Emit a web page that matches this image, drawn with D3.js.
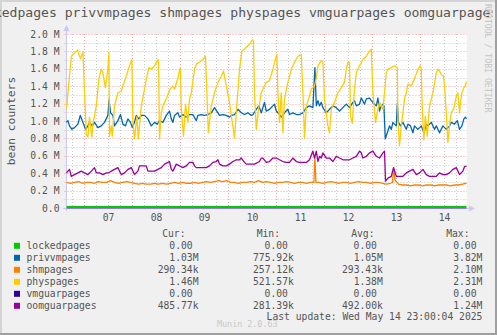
<!DOCTYPE html>
<html>
<head>
<meta charset="utf-8">
<script src="https://cdn.jsdelivr.net/npm/d3@7"></script>
<style>
  html, body { margin: 0; padding: 0; background: #F0F0F0; }
  svg { display: block; }
  text { font-family: "DejaVu Sans Mono", monospace; fill: #555; }
</style>
</head>
<body>
<svg id="chart" width="497" height="335"></svg>
<script>
// ---- data -----------------------------------------------------------------
// Samples are [hours since 2025-05-06 15:00 UTC, value in millions of pages].
const seriesNames = ["lockedpages", "privvmpages", "shmpages", "physpages", "vmguarpages", "oomguarpages"];

const lockedpages = [[0, 0], [200, 0]];

const privvmpages = [
  [0,0.99],[0.7,1.01],[1.5,0.95],[2.7,0.91],[4,0.93],[5.7,0.97],[6.9,1.07],[8.2,0.99],[9.5,0.91],[10.7,0.95],
  [11.5,0.99],[12.9,0.95],[14,0.99],[15.7,0.93],[17.4,0.95],[19,0.99],[20.7,1.07],[21.3,1.25],[22,1.10],[23.2,1.07],
  [24,0.95],[25.7,1.01],[27,1.08],[28.2,0.97],[29.5,0.95],[30.7,1.03],[32,0.99],[32.9,0.93],[34,0.99],[34.9,1.07],
  [36.2,1.03],[37.4,1.07],[39,1.07],[40.7,1.03],[42.4,0.95],[44,0.99],[45.4,0.97],[46.5,1.01],[48.2,0.99],[49.9,1.07],
  [51.5,1.12],[52.4,1.03],[53.2,0.99],[54,1.07],[55.7,1.10],[56.5,1.05],[58.2,1.08],[59.9,1.05],[61.5,1.08],[63.2,1.08],
  [64.9,1.01],[65.7,1.07],[67.4,1.08],[69,1.07],[70.7,1.08],[72.4,1.10],[74,1.16],[75.7,1.10],[76.5,1.07],[78.2,1.08],
  [79.9,1.07],[81.5,1.05],[82.4,1.07],[84,1.08],[85.7,1.14],[87.4,1.10],[89,1.08],[90.7,1.10],[92.4,1.07],[93.2,1.08],
  [94.9,1.14],[96.2,1.18],[97.4,1.10],[99,1.22],[99.9,1.12],[101.5,1.14],[103.2,1.18],[104,1.20],[104.9,1.12],[106.5,1.08],
  [107.4,1.05],[109,1.10],[110.7,1.14],[111.5,1.08],[113.2,1.10],[114.9,1.08],[116.5,1.08],[118.2,1.10],[119.9,1.16],[121.5,1.18],
  [123.2,1.16],[124.2,1.62],[124.9,1.18],[125.7,1.24],[126.5,1.18],[127.4,1.22],[128.2,1.16],[129.9,1.10],[131.5,1.14],[133.2,1.18],
  [134.9,1.16],[136.5,1.12],[138.2,1.16],[139.9,1.20],[141.5,1.16],[143.2,1.22],[144,1.24],[144.9,1.18],[146.5,1.20],[147.4,1.27],
  [149,1.20],[149.9,1.26],[151.5,1.27],[152.4,1.24],[153.2,1.22],[154.9,1.18],[155.7,1.27],[156.5,1.12],[157.4,1.18],[158.2,1.20],
  [158.7,1.18],[159.4,0.80],[160.4,0.87],[161.5,0.95],[162.4,0.91],[163.2,0.99],[164,0.97],[164.9,0.95],[165.4,1.20],[166,0.99],
  [167,0.95],[168.2,0.99],[169.9,0.91],[170.7,0.97],[172,0.95],[173.2,0.87],[174,0.95],[175.7,0.91],[177.4,0.95],[178.7,0.87],
  [179.9,0.97],[180.7,0.95],[182.4,0.99],[184,0.91],[184.9,0.95],[186.5,0.87],[188.2,0.95],[189.9,0.91],[191.5,0.95],[192.4,0.99],
  [194,0.97],[195.4,1.01],[196.5,0.91],[197.7,0.95],[198.7,1.03],[199.4,1.05],[200,1.03]
];

const shmpages = [
  [0,0.30],[2,0.29],[4,0.30],[6,0.31],[8,0.29],[10,0.30],[12,0.30],[14,0.29],[16,0.31],[18,0.30],
  [20,0.30],[22,0.32],[24,0.30],[26,0.29],[28,0.30],[30,0.31],[32,0.30],[34,0.29],[36,0.28],[38,0.29],
  [40,0.28],[42,0.28],[44,0.29],[46,0.28],[48,0.29],[50,0.28],[52,0.29],[54,0.30],[56,0.29],[58,0.30],
  [60,0.29],[62,0.29],[64,0.30],[66,0.29],[68,0.30],[70,0.31],[72,0.30],[74,0.31],[76,0.32],[78,0.31],
  [80,0.32],[82,0.30],[84,0.30],[86,0.29],[88,0.30],[90,0.30],[92,0.31],[94,0.30],[96,0.32],[98,0.30],
  [100,0.31],[102,0.30],[104,0.29],[106,0.30],[108,0.30],[110,0.31],[112,0.30],[114,0.29],[116,0.30],[118,0.30],
  [120,0.29],[122,0.30],[123.7,0.30],[124.2,0.60],[124.7,0.30],[126,0.30],[128,0.29],[130,0.30],[132,0.31],[134,0.30],
  [136,0.29],[138,0.30],[140,0.30],[142,0.29],[144,0.30],[146,0.31],[148,0.30],[150,0.30],[152,0.29],[154,0.30],
  [156,0.30],[158,0.29],[160,0.28],[162,0.29],[163,0.30],[163.6,0.47],[164.2,0.33],[166,0.28],[168,0.27],[170,0.27],
  [172,0.26],[174,0.27],[176,0.27],[178,0.26],[180,0.27],[182,0.27],[184,0.26],[186,0.27],[188,0.27],[190,0.27],
  [192,0.26],[194,0.27],[196,0.27],[198,0.28],[200,0.2903]
];

const physpages = [
  [0,1.15],[2.4,1.75],[5.5,1.82],[7.0,1.72],[8.2,1.80],[9.9,0.85],[10.7,0.82],[11.5,1.05],[12.7,0.82],[13.2,0.97],
  [14.9,1.18],[16.2,1.49],[17.4,1.60],[18.2,1.56],[19.4,1.39],[20.7,1.60],[21.2,1.79],[21.5,0.83],[22.4,0.95],[22.9,0.83],
  [24.0,1.18],[25.7,1.33],[27.4,1.35],[28.2,1.41],[29.9,1.52],[31.5,1.64],[32.7,1.71],[33.2,0.99],[34.0,0.80],[35.2,1.06],
  [35.9,0.80],[37.4,1.18],[39.0,1.37],[40.2,1.52],[41.2,1.62],[42.4,1.60],[44.0,1.64],[45.4,1.70],[46.0,1.71],[46.5,0.80],
  [47.4,1.10],[48.2,1.18],[49.9,1.26],[51.5,1.36],[53.2,1.41],[54.0,1.37],[55.7,1.50],[56.9,1.62],[57.4,1.14],[58.5,0.83],
  [59.5,1.20],[60.7,0.99],[61.5,1.26],[62.4,1.33],[64.0,1.60],[64.9,1.66],[66.5,1.68],[68.2,1.71],[69.5,1.75],[70.2,1.33],
  [70.9,0.87],[72.4,1.18],[74.0,1.33],[75.7,1.45],[77.4,1.52],[78.5,1.58],[79.9,1.41],[81.5,1.22],[82.4,1.06],[83.2,0.95],
  [84.0,0.81],[84.9,1.10],[86.5,1.60],[87.7,1.81],[89.0,1.83],[90.7,1.87],[92.0,1.90],[92.9,1.94],[93.5,1.92],[94.0,1.33],
  [94.9,0.91],[96.0,1.14],[97.4,1.33],[99.0,1.41],[99.9,1.45],[101.5,1.47],[103.2,1.60],[104.0,1.68],[105.2,1.77],[105.7,1.33],
  [106.5,0.99],[107.4,1.33],[108.2,0.87],[109.0,1.26],[110.7,1.45],[112.4,1.60],[114.0,1.68],[115.7,1.75],[117.4,1.77],[118.2,1.33],
  [119.0,0.81],[119.9,1.18],[121.5,1.29],[122.4,1.37],[124.0,1.41],[124.9,1.50],[125.7,1.64],[127.4,1.70],[128.2,1.68],[129.0,1.26],
  [130.7,0.95],[131.5,0.87],[132.4,1.14],[134.0,1.22],[135.7,1.33],[137.4,1.39],[139.0,1.45],[139.9,1.60],[140.7,1.68],[141.5,1.68],
  [142.0,1.06],[142.9,0.98],[144.0,1.37],[144.9,1.56],[146.5,1.64],[148.2,1.71],[149.9,1.75],[151.5,1.81],[152.4,1.83],[153.2,1.33],
  [154.5,0.99],[155.7,1.14],[156.5,1.22],[158.2,1.14],[159.0,1.33],[159.9,1.56],[160.7,1.60],[162.4,1.62],[164.0,1.64],[165.4,1.62],
  [165.7,1.03],[166.5,0.72],[167.4,0.95],[168.2,1.10],[169.0,1.26],[169.9,1.33],[170.7,1.43],[172.4,1.41],[174.0,1.49],[175.7,1.60],
  [176.9,1.64],[177.4,1.60],[177.9,1.14],[178.7,0.79],[179.4,1.06],[180.4,0.83],[181.5,1.18],[183.2,1.33],[184.9,1.56],[185.7,1.60],
  [186.5,1.58],[187.4,1.54],[188.5,1.52],[189.0,1.41],[189.9,1.10],[190.7,0.76],[191.5,0.95],[192.4,1.10],[193.5,1.14],[194.9,1.29],
  [195.7,1.33],[196.5,1.10],[197.0,1.22],[197.7,1.33],[198.7,1.39],[199.4,1.41],[200.0,1.46]
];

const vmguarpages = [[0, 0], [200, 0]];

const oomguarpages = [
  [0,0.41],[0.7,0.43],[1.5,0.45],[2.4,0.37],[4,0.39],[5.7,0.41],[7.4,0.43],[9,0.41],[10.7,0.39],[12.4,0.43],
  [13.2,0.45],[14,0.47],[14.9,0.41],[16.5,0.41],[18.2,0.39],[19.9,0.41],[21.2,0.41],[22.4,0.43],[24,0.45],[25.7,0.47],
  [26.5,0.43],[27.4,0.39],[29,0.41],[30.7,0.45],[32.4,0.47],[33.2,0.43],[34,0.39],[35.7,0.43],[36.5,0.49],[38.2,0.49],
  [39.9,0.49],[40.7,0.43],[42.4,0.43],[44,0.43],[45.7,0.45],[47.4,0.47],[49,0.51],[50.7,0.53],[51.5,0.54],[52.4,0.45],
  [53.2,0.43],[54.9,0.51],[56.5,0.49],[58.2,0.47],[59.9,0.49],[61.5,0.53],[63.2,0.53],[64,0.49],[64.9,0.47],[67.4,0.47],
  [69.9,0.47],[71.5,0.49],[73.2,0.53],[74.9,0.54],[75.7,0.56],[76.5,0.51],[78.2,0.49],[79.9,0.49],[81.5,0.51],[83.2,0.54],
  [84.9,0.56],[86.5,0.56],[87.4,0.58],[89,0.53],[89.9,0.51],[92.4,0.51],[94,0.51],[96.5,0.54],[97.4,0.58],[98.2,0.58],
  [99.9,0.53],[101.5,0.54],[103.2,0.58],[104.9,0.58],[106.5,0.56],[108.2,0.54],[109.9,0.53],[111.5,0.53],[113.2,0.58],[114.9,0.54],
  [116.5,0.53],[118.2,0.53],[119.9,0.53],[121.5,0.56],[123.2,0.66],[124,0.58],[124.9,0.66],[125.7,0.54],[126.5,0.60],[127.4,0.58],
  [128.2,0.64],[129.9,0.58],[131.5,0.58],[133.2,0.54],[134.9,0.60],[136.5,0.58],[138.2,0.56],[139.9,0.56],[141.5,0.56],[143.2,0.58],
  [144.9,0.60],[146.5,0.66],[147.4,0.64],[148.2,0.58],[149.9,0.60],[151.5,0.64],[153.2,0.66],[154.9,0.60],[156.5,0.58],[158.2,0.64],
  [159,0.66],[159.5,0.315],[160.7,0.35],[162.4,0.37],[163.5,0.47],[164.9,0.37],[166.5,0.37],[168.2,0.37],[169.9,0.41],[171.5,0.43],
  [173.2,0.45],[174.9,0.39],[176.5,0.41],[178.2,0.45],[179.9,0.39],[181.5,0.37],[183.2,0.37],[184.9,0.37],[186.5,0.41],[188.2,0.39],
  [189.9,0.39],[191.5,0.41],[193.2,0.45],[194.9,0.47],[196.5,0.39],[198.2,0.43],[199,0.48],[200,0.4858]
];

// Legend statistics, in pages
const curValues = [0, 1.03e6, 290.34e3, 1.46e6, 0, 485.77e3];
const minValues = [0, 775.92e3, 257.12e3, 521.57e3, 0, 281.39e3];
const avgValues = [0, 1.05e6, 293.43e3, 1.38e6, 0, 492.00e3];
const maxValues = [0, 3.82e6, 2.10e6, 2.31e6, 0, 1.24e6];

const dayLabels = ["07", "08", "09", "10", "11", "12", "13", "14"];
const yTickValues = [0, 0.2, 0.4, 0.6, 0.8, 1.0, 1.2, 1.4, 1.6, 1.8, 2.0];
const statHeaders = ["Cur:", "Min:", "Avg:", "Max:"];
const titleText = "lockedpages privvmpages shmpages physpages vmguarpages oomguarpages";
const lastUpdate = "Last update: Wed May 14 23:00:04 2025";

// ---- drawing --------------------------------------------------------------
const colors = ["#00CC00", "#0066B3", "#FF8000", "#FFCC00", "#330099", "#990099"];
const allSeries = [lockedpages, privvmpages, shmpages, physpages, vmguarpages, oomguarpages];

const W = 497, H = 335;
const svg = d3.select("#chart");
const t0 = Date.UTC(2025, 4, 6, 15);
const t1 = Date.UTC(2025, 4, 14, 23);
const toDate = h => new Date(t0 + h * 3600e3);

const x = d3.scaleUtc().domain([new Date(t0), new Date(t1)]).range([66.5, 466.5]);
const y = d3.scaleLinear().domain([0, 2]).range([208.5, 34.5]);
const plotL = 66.5, plotR = 467, plotT = 34;

// frame
svg.append("rect").attr("width", W).attr("height", H).attr("fill", "#F0F0F0");
svg.append("rect").attr("x", 0).attr("y", 0).attr("width", W).attr("height", 2).attr("fill", "#D4D4D4");
svg.append("rect").attr("x", 0).attr("y", 0).attr("width", 2).attr("height", H).attr("fill", "#D4D4D4");

// title runs past both edges of the canvas; clip it just inside the right frame
svg.append("clipPath").attr("id", "titleClip")
  .append("rect").attr("x", 0).attr("y", 0).attr("width", 492.5).attr("height", 30);
svg.append("text").attr("x", -29.9).attr("y", 17).attr("font-size", "13.1px")
  .attr("clip-path", "url(#titleClip)")
  .attr("fill", "#505050").text(titleText);

svg.append("rect").attr("x", W - 2).attr("y", 0).attr("width", 2).attr("height", H).attr("fill", "#A0A0A0");
svg.append("rect").attr("x", 0).attr("y", H - 2).attr("width", W).attr("height", 2).attr("fill", "#A0A0A0");

// plot background
svg.append("rect").attr("x", 67).attr("y", plotT).attr("width", plotR - 67).attr("height", 208 - plotT)
  .attr("fill", "#FFFFFF");

const grid = svg.append("g").attr("fill", "none").attr("stroke-width", 1).attr("stroke-dasharray", "1,2");

// horizontal grid: minor every 0.1 M, major every 0.2 M
const minorY = d3.range(1, 20, 2).map(i => i / 10);
grid.selectAll("line.hmin").data(minorY).join("line")
  .attr("x1", plotL - 2).attr("x2", plotR)
  .attr("y1", d => Math.round(y(d) - 0.5) + 0.5).attr("y2", d => Math.round(y(d) - 0.5) + 0.5)
  .attr("stroke", "#C8C8C8");
grid.selectAll("line.hmaj").data(yTickValues.filter(v => v > 0)).join("line")
  .attr("x1", plotL - 2).attr("x2", plotR)
  .attr("y1", d => Math.round(y(d) - 0.5) + 0.5).attr("y2", d => Math.round(y(d) - 0.5) + 0.5)
  .attr("stroke", "#F0A0A0");

// vertical grid: minor every 6 h, major at midnight
const sixHours = d3.utcHour.every(6).range(new Date(t0), new Date(t1)).filter(d => d.getUTCHours() !== 0);
const midnights = d3.utcDay.range(new Date(t0), new Date(t1));
grid.selectAll("line.vmin").data(sixHours).join("line")
  .attr("x1", d => x(d)).attr("x2", d => x(d)).attr("y1", plotT).attr("y2", 210)
  .attr("stroke", "#C8C8C8");
grid.selectAll("line.vmaj").data(midnights).join("line")
  .attr("x1", d => x(d)).attr("x2", d => x(d)).attr("y1", plotT).attr("y2", 210)
  .attr("stroke", "#F0A0A0");

// axes
const axisColor = "#C8C8F0";
svg.append("line").attr("x1", 63).attr("x2", 470).attr("y1", 208.5).attr("y2", 208.5)
  .attr("stroke", axisColor);
svg.append("path").attr("d", "M469,205.5L475,208.5L469,211.5Z").attr("fill", axisColor);
svg.append("line").attr("x1", 66.5).attr("x2", 66.5).attr("y1", 211).attr("y2", 30)
  .attr("stroke", axisColor);
svg.append("path").attr("d", "M63.5,31L66.5,25L69.5,31Z").attr("fill", axisColor);

// y tick labels
svg.append("g").selectAll("text").data(yTickValues).join("text")
  .attr("x", 59.5).attr("y", d => Math.round(y(d)) + 3)
  .attr("text-anchor", "end").attr("font-size", "9.7px")
  .text(d => d === 0 ? "0.0" : d3.format(".1f")(d) + " M");

// x day labels at noon
svg.append("g").selectAll("text").data(dayLabels).join("text")
  .attr("x", (d, i) => x(new Date(Date.UTC(2025, 4, 7 + i, 12))))
  .attr("y", 220.5).attr("text-anchor", "middle").attr("font-size", "9.7px")
  .text(d => d);

// y axis title
svg.append("text").attr("transform", "translate(15,121) rotate(-90)")
  .attr("text-anchor", "middle").attr("font-size", "11.3px").text("bean counters");

// watermark
svg.append("text").attr("transform", "translate(485,4) rotate(90)")
  .attr("font-size", "8.2px").style("fill", "#C4C4C4").text("RRDTOOL / TOBI OETIKER");

// series lines
const line = d3.line().x(d => x(toDate(d[0]))).y(d => y(d[1]));
const lines = svg.append("g").attr("fill", "none");
allSeries.forEach((s, i) => {
  const p = lines.append("path").datum(s).attr("d", line)
    .attr("stroke", colors[i]).attr("stroke-width", 1.3).attr("stroke-linejoin", "round");
  if (seriesNames[i] === "lockedpages") p.attr("stroke-width", 2).attr("transform", "translate(0,-1.5)");
  if (seriesNames[i] === "vmguarpages") p.attr("stroke-width", 1).attr("stroke-opacity", 0.35);
});

// legend
const fmt = v => {
  if (v >= 1e6) return (v / 1e6).toFixed(2) + "M";
  if (v >= 1e3) return (v / 1e3).toFixed(2) + "k";
  return v.toFixed(2);
};
const charW = 5.84;
const headerX = [185.5, 280, 374.5, 469.5];
const colX = [198.5, 293.8, 382.8, 482.4];
const statCols = [curValues, minValues, avgValues, maxValues];

svg.append("g").selectAll("text").data(statHeaders).join("text")
  .attr("x", (d, i) => headerX[i]).attr("y", 236.7).attr("text-anchor", "end")
  .attr("font-size", "9.7px").text(d => d);

const leg = svg.append("g");
seriesNames.forEach((name, i) => {
  const by = 248.5 + 12 * i;
  leg.append("rect").attr("x", 14).attr("y", by - 5.7).attr("width", 6).attr("height", 6)
    .attr("fill", colors[i]);
  leg.append("text").attr("x", 26.5).attr("y", by).attr("font-size", "9.7px").text(name);
  statCols.forEach((col, j) => {
    const v = col[i];
    const s = fmt(v);
    const shift = v < 1e3 ? charW : 0;
    leg.append("text").attr("x", colX[j] - shift).attr("y", by).attr("text-anchor", "end")
      .attr("font-size", "9.7px").text(s);
  });
});

svg.append("text").attr("x", 482.4).attr("y", 320).attr("text-anchor", "end")
  .attr("font-size", "9.7px").text(lastUpdate);

svg.append("text").attr("x", 247.3).attr("y", 327).attr("text-anchor", "middle")
  .attr("font-size", "8.4px").style("fill", "#C8C8C8").text("Munin 2.0.63");
</script>
</body>
</html>
